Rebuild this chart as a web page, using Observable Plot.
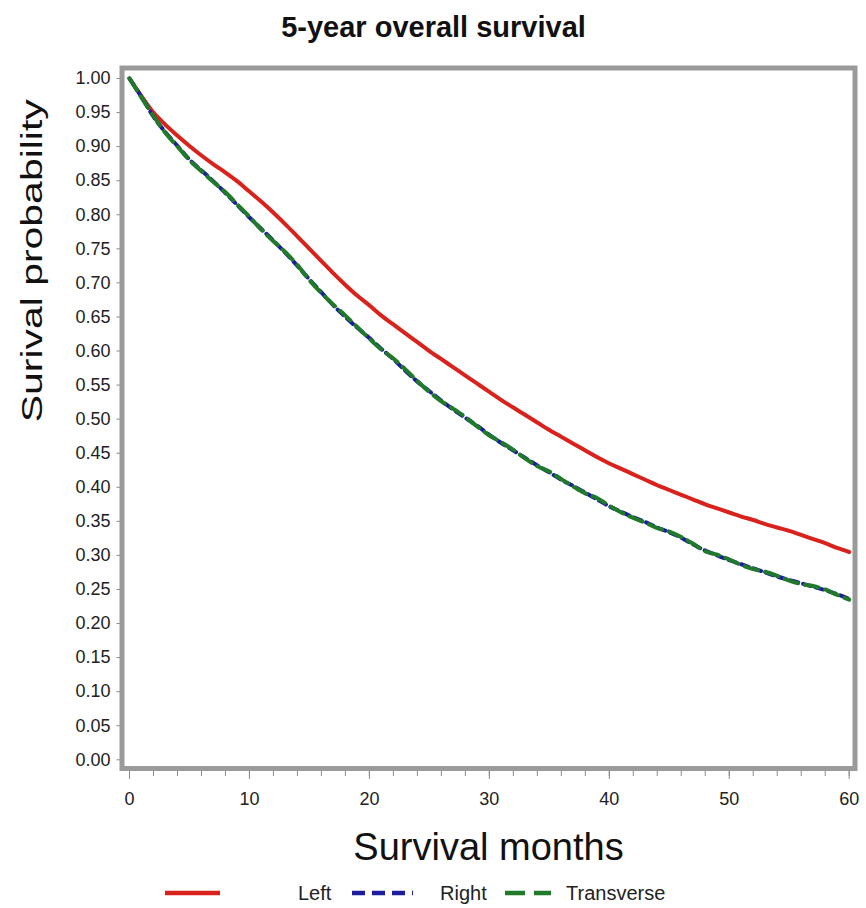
<!DOCTYPE html>
<html>
<head>
<meta charset="utf-8">
<script src="https://cdn.jsdelivr.net/npm/d3@7"></script>
<script src="https://cdn.jsdelivr.net/npm/@observablehq/plot@0.6"></script>
<style>
  html, body { margin: 0; padding: 0; background: #fff; }
  #wrap { position: relative; width: 866px; height: 908px; font-family: "Liberation Sans", Arial, sans-serif; }
  .lg { position: absolute; top: 880px; height: 26px; display: flex; align-items: center; font-size: 20px; color: #222; }
  .lg svg { display: block; }
</style>
</head>
<body>
<div id="wrap"></div>
<script>
const title = "5-year overall survival";
const xLabel = "Survival months";
const yLabel = "Surival probability";
const groups = ["Left", "Right", "Transverse"];
const colors = ["#d9221c", "#1c1c9c", "#1f7a2a"];

const months = [0,1,2,3,4,5,6,7,8,9,10,11,12,13,14,15,16,17,18,19,20,21,22,23,24,25,26,27,28,29,30,
  31,32,33,34,35,36,37,38,39,40,41,42,43,44,45,46,47,48,49,50,51,52,53,54,55,56,57,58,59,60];

const leftSurv = [1.000,0.974,0.950,0.932,0.916,0.901,0.887,0.874,0.862,0.849,0.834,0.819,0.803,0.786,0.768,0.750,
  0.732,0.714,0.697,0.681,0.667,0.652,0.639,0.626,0.613,0.600,0.588,0.576,0.564,0.552,0.540,0.528,0.517,0.506,0.495,
  0.484,0.474,0.464,0.454,0.444,0.435,0.427,0.419,0.411,0.403,0.396,0.389,0.382,0.375,0.369,0.363,0.357,0.352,0.346,
  0.341,0.336,0.330,0.324,0.318,0.311,0.305];

const rightSurv = [1.000,0.973,0.944,0.921,0.901,0.881,0.865,0.849,0.832,0.814,0.796,0.779,0.762,0.744,0.725,0.705,
  0.686,0.667,0.650,0.634,0.619,0.603,0.588,0.571,0.555,0.541,0.527,0.514,0.502,0.490,0.477,0.465,0.454,0.443,0.432,
  0.422,0.411,0.402,0.392,0.382,0.372,0.364,0.356,0.349,0.341,0.334,0.326,0.316,0.307,0.300,0.293,0.287,0.281,0.275,
  0.269,0.264,0.259,0.254,0.249,0.243,0.236];

const transSurv = [1.000,0.972,0.945,0.920,0.900,0.880,0.864,0.848,0.833,0.815,0.797,0.778,0.761,0.745,0.726,0.704,
  0.685,0.668,0.652,0.635,0.618,0.602,0.589,0.573,0.556,0.540,0.526,0.515,0.503,0.489,0.476,0.466,0.455,0.442,0.431,
  0.423,0.412,0.401,0.391,0.384,0.373,0.363,0.355,0.348,0.340,0.335,0.327,0.317,0.306,0.301,0.294,0.286,0.280,0.276,
  0.270,0.263,0.258,0.255,0.250,0.242,0.235];

const yTicks = [0,0.05,0.10,0.15,0.20,0.25,0.30,0.35,0.40,0.45,0.50,0.55,0.60,0.65,0.70,0.75,0.80,0.85,0.90,0.95,1.00];
const xMajorTicks = [0,10,20,30,40,50,60];
const xMinorTicks = [0,2,4,6,8,10,12,14,16,18,20,22,24,26,28,30,32,34,36,38,40,42,44,46,48,50,52,54,56,58,60];

const toRows = (vals) => months.map((m, i) => ({month: m, surv: vals[i]}));
const leftRows = toRows(leftSurv);
const rightRows = toRows(rightSurv);
const transRows = toRows(transSurv);

const chart = Plot.plot({
  width: 866,
  height: 908,
  marginTop: 67.5,
  marginLeft: 121.5,
  marginRight: 11.5,
  marginBottom: 140,
  x: {domain: [0, 60], insetLeft: 7.5, insetRight: 5.8},
  y: {domain: [0, 1], insetTop: 10.5, insetBottom: 8.7},
  style: {fontFamily: "'Liberation Sans', Arial, sans-serif", fontSize: "18px", color: "#222", background: "#fff", overflow: "visible"},
  marks: [
    Plot.axisY(yTicks, {tickSize: 5, tickPadding: 6.5, tickFormat: d3.format(".2f"), label: null, stroke: "#8a8a8a", fill: "#222"}),
    Plot.axisX(xMinorTicks, {tickSize: 8, tickFormat: () => "", label: null, stroke: "#8a8a8a"}),
    Plot.axisX(xMajorTicks, {tickSize: 11, tickPadding: 13, label: null, stroke: "#8a8a8a", fill: "#222"}),
    Plot.line(leftRows, {x: "month", y: "surv", stroke: colors[0], strokeWidth: 4, curve: "monotone-x"}),
    Plot.line(rightRows, {x: "month", y: "surv", stroke: colors[1], strokeWidth: 4, strokeDasharray: "8,5", curve: "monotone-x"}),
    Plot.line(transRows, {x: "month", y: "surv", stroke: colors[2], strokeWidth: 4, strokeDasharray: "14,7", curve: "monotone-x"}),
    Plot.frame({stroke: "#9a9a9a", strokeWidth: 5}),
    Plot.text([title], {text: d => d, frameAnchor: "top", lineAnchor: "middle", dy: -40.5, dx: -55, fontSize: 29, fontWeight: "bold", fill: "#111"}),
    Plot.text([xLabel], {text: d => d, frameAnchor: "bottom", lineAnchor: "middle", dy: 79, fontSize: 38, fill: "#111"}),
    Plot.text([yLabel], {text: d => d, frameAnchor: "left", lineAnchor: "middle", rotate: -90, dx: -90, dy: 4, fontSize: 30, fill: "#111"})
  ]
});

chart.querySelectorAll("text").forEach(t => {
  if (t.textContent === yLabel) {
    t.setAttribute("textLength", "323");
    t.setAttribute("lengthAdjust", "spacingAndGlyphs");
  }
});

const wrap = document.getElementById("wrap");
wrap.appendChild(chart);

// legend
const legendItems = [
  {name: groups[0], color: colors[0], dash: null, lineLeft: 165, lineW: 55, textLeft: 298},
  {name: groups[1], color: colors[1], dash: "13,7", lineLeft: 352, lineW: 61, textLeft: 440},
  {name: groups[2], color: colors[2], dash: "20,9", lineLeft: 505, lineW: 46, textLeft: 566}
];
legendItems.forEach(it => {
  const sw = document.createElement("div");
  sw.className = "lg";
  sw.style.left = it.lineLeft + "px";
  sw.innerHTML = `<svg width="${it.lineW}" height="26"><line x1="0" x2="${it.lineW}" y1="13" y2="13" stroke="${it.color}" stroke-width="4.5" ${it.dash ? `stroke-dasharray="${it.dash}"` : ""}/></svg>`;
  wrap.appendChild(sw);
  const tx = document.createElement("div");
  tx.className = "lg";
  tx.style.left = it.textLeft + "px";
  tx.textContent = it.name;
  wrap.appendChild(tx);
});
</script>
</body>
</html>
